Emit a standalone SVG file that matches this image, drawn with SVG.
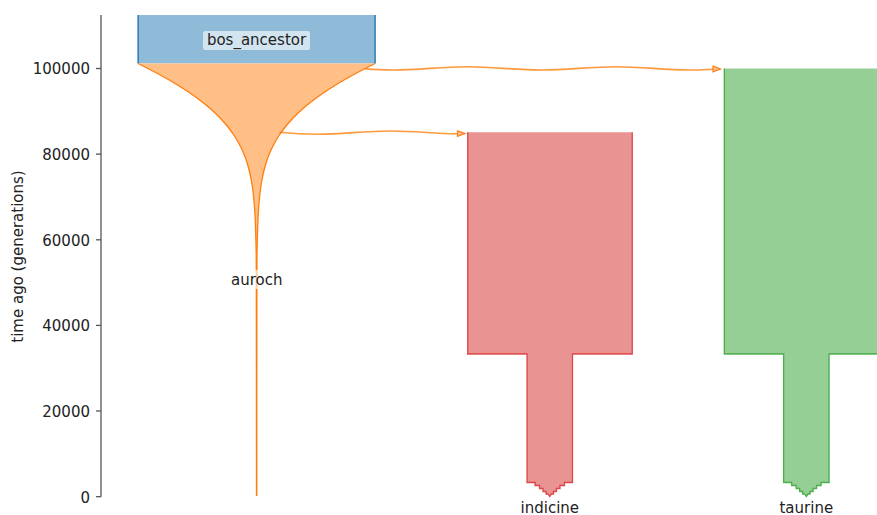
<svg xmlns="http://www.w3.org/2000/svg" width="877" height="515" viewBox="0 0 877 515">
<style>
text{font-family:"DejaVu Sans","Liberation Sans",sans-serif;font-size:15px;fill:#222}
.tick{text-anchor:end}
.lbl{text-anchor:middle}
.box{fill:#fff;fill-opacity:0.6}
.conn{fill:none;stroke:#ff7f0e;stroke-opacity:0.8;stroke-width:1.6}
.head{fill:#ffc08a;stroke:#ff8420;stroke-width:1.3;stroke-linejoin:miter}
.edge{fill:none;stroke:#ff7f0e;stroke-width:1.3;stroke-linejoin:round}
</style>
<rect width="877" height="515" fill="#fff"/>
<g id="axis" stroke="#555" stroke-width="1.3">
<line x1="101" y1="15" x2="101" y2="496.7"/>
<line x1="96" y1="496.7" x2="101" y2="496.7"/>
<line x1="96" y1="411" x2="101" y2="411"/>
<line x1="96" y1="325.4" x2="101" y2="325.4"/>
<line x1="96" y1="239.8" x2="101" y2="239.8"/>
<line x1="96" y1="154.1" x2="101" y2="154.1"/>
<line x1="96" y1="68.5" x2="101" y2="68.5"/>
</g>
<g id="ticklabels">
<text class="tick" x="90" y="502.5">0</text>
<text class="tick" x="90" y="416.8">20000</text>
<text class="tick" x="90" y="331.2">40000</text>
<text class="tick" x="90" y="245.6">60000</text>
<text class="tick" x="90" y="159.9">80000</text>
<text class="tick" x="90" y="74.3">100000</text>
<text class="lbl" transform="translate(22.5,256.5) rotate(-90)">time ago (generations)</text>
</g>
<g id="bos_ancestor">
<rect x="138.1" y="15" width="237" height="48.5" fill="#8fbbd9"/>
<line x1="138.1" y1="15" x2="138.1" y2="63.5" stroke="#1f77b4" stroke-width="1.4"/>
<line x1="375.1" y1="15" x2="375.1" y2="63.5" stroke="#1f77b4" stroke-width="1.4"/>
</g>
<g id="auroch">
<path fill="#ffbf86" d="M138.1,63.5 L146,67.5 153.7,71.5 161.1,75.5 168.3,79.5 175.1,83.5 183.1,88.5 190.7,93.5 197.7,98.5 204.2,103.5 210.2,108.5 215.6,113.5 220.6,118.5 225.1,123.5 229.2,128.5 232.8,133.5 236.1,138.5 238.9,143.5 241.5,148.5 243.7,153.5 245.7,158.5 247.3,163.5 249.5,171.5 251.2,179.5 252.5,187.5 253.5,195.5 254.4,205.5 255.2,218.5 255.7,233.5 256.2,253.5 256.3,273.5 256.3,496 256.9,496 256.9,273.5 257,253.5 257.5,233.5 258,218.5 258.8,205.5 259.7,195.5 260.7,187.5 262,179.5 263.7,171.5 265.9,163.5 267.5,158.5 269.5,153.5 271.7,148.5 274.3,143.5 277.1,138.5 280.4,133.5 284,128.5 288.1,123.5 292.6,118.5 297.6,113.5 303,108.5 309,103.5 315.5,98.5 322.5,93.5 330.1,88.5 338.1,83.5 344.9,79.5 352.1,75.5 359.5,71.5 367.2,67.5 375.1,63.5 Z"/>
<polyline class="edge" points="138.1,63.5 146,67.5 153.7,71.5 161.1,75.5 168.3,79.5 175.1,83.5 183.1,88.5 190.7,93.5 197.7,98.5 204.2,103.5 210.2,108.5 215.6,113.5 220.6,118.5 225.1,123.5 229.2,128.5 232.8,133.5 236.1,138.5 238.9,143.5 241.5,148.5 243.7,153.5 245.7,158.5 247.3,163.5 249.5,171.5 251.2,179.5 252.5,187.5 253.5,195.5 254.4,205.5 255.2,218.5 255.7,233.5 256.2,253.5 256.3,273.5 256.5,496"/>
<polyline class="edge" points="375.1,63.5 367.2,67.5 359.5,71.5 352.1,75.5 344.9,79.5 338.1,83.5 330.1,88.5 322.5,93.5 315.5,98.5 309,103.5 303,108.5 297.6,113.5 292.6,118.5 288.1,123.5 284,128.5 280.4,133.5 277.1,138.5 274.3,143.5 271.7,148.5 269.5,153.5 267.5,158.5 265.9,163.5 263.7,171.5 262,179.5 260.7,187.5 259.7,195.5 258.8,205.5 258,218.5 257.5,233.5 257,253.5 256.9,273.5 256.7,496"/>
</g>
<g id="indicine">
<path fill="#ea9393" d="M467.7,132.3 L632.3,132.3 632.3,354 572.5,354 572.5,482.5 564.5,482.5 564.5,485.5 560,485.5 560,488.5 556.5,488.5 556.5,491.5 553.5,491.5 553.5,494 551.5,494 549.75,496.5 548,494 546,494 546,491.5 543,491.5 543,488.5 539.5,488.5 539.5,485.5 535,485.5 535,482.5 527,482.5 527,354 467.7,354 Z"/>
<polyline fill="none" stroke="#d62728" stroke-opacity="0.8" stroke-width="1.3" points="632.3,132.3 632.3,354 572.5,354 572.5,482.5 564.5,482.5 564.5,485.5 560,485.5 560,488.5 556.5,488.5 556.5,491.5 553.5,491.5 553.5,494 551.5,494 549.75,496.5 548,494 546,494 546,491.5 543,491.5 543,488.5 539.5,488.5 539.5,485.5 535,485.5 535,482.5 527,482.5 527,354 467.7,354 467.7,132.3"/>
</g>
<g id="taurine">
<path fill="#95cf95" d="M724.3,68.5 L888.9,68.5 888.9,354 829.1,354 829.1,482.5 821.1,482.5 821.1,485.5 816.6,485.5 816.6,488.5 813.1,488.5 813.1,491.5 810.1,491.5 810.1,494 808.1,494 806.3,496.5 804.6,494 802.6,494 802.6,491.5 799.6,491.5 799.6,488.5 796.1,488.5 796.1,485.5 791.6,485.5 791.6,482.5 783.6,482.5 783.6,354 724.3,354 Z"/>
<polyline fill="none" stroke="#2ca02c" stroke-opacity="0.8" stroke-width="1.3" points="888.9,354 829.1,354 829.1,482.5 821.1,482.5 821.1,485.5 816.6,485.5 816.6,488.5 813.1,488.5 813.1,491.5 810.1,491.5 810.1,494 808.1,494 806.3,496.5 804.6,494 802.6,494 802.6,491.5 799.6,491.5 799.6,488.5 796.1,488.5 796.1,485.5 791.6,485.5 791.6,482.5 783.6,482.5 783.6,354 724.3,354 724.3,68.5"/>
</g>
<g id="connectors">
<path class="conn" d="M365,68.9 C375,69.6 385,70 393,70 C420,70 440,66.7 467,66.7 C494,66.7 514,70 541.5,70 C568.5,70 589,66.7 616,66.7 C643,66.7 663,70 690,70 C700,70 706,69.5 713,69.2"/>
<path class="head" d="M713,66.2 L720.5,69 L713,71.9 Z"/>
<path class="conn" d="M279.3,132.3 C292,133.6 304,134.3 317,134.3 C344,134.3 363,131 390,131 C417,131 436,134 457.5,133.8"/>
<path class="head" d="M457.5,130.9 L465,133.6 L457.5,136.4 Z"/>
</g>
<g id="labels">
<rect class="box" x="203" y="31" width="107" height="19" rx="2.5"/>
<text class="lbl" x="256.5" y="44.5">bos_ancestor</text>
<rect class="box" x="228.5" y="270" width="56" height="19" rx="2.5"/>
<text class="lbl" x="256.7" y="284.5">auroch</text>
<text class="lbl" x="549.8" y="512.5">indicine</text>
<text class="lbl" x="806.3" y="512.5">taurine</text>
</g>
</svg>
